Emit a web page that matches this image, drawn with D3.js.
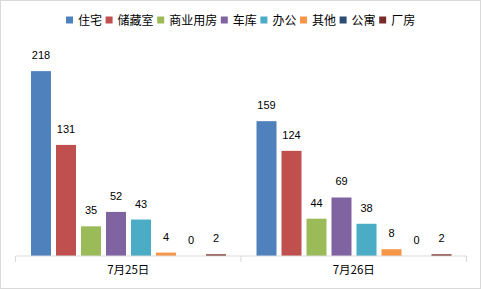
<!DOCTYPE html>
<html>
<head>
<meta charset="utf-8">
<script src="https://cdn.jsdelivr.net/npm/d3@7"></script>
<style>
  body { margin: 0; background: #fff; }
  svg { display: block; }
</style>
</head>
<body>
<svg id="chart"></svg>
<script>
// categories and series
var dates = ["7月25日", "7月26日"];
var types = ["住宅", "储藏室", "商业用房", "车库", "办公", "其他", "公寓", "厂房"];
var day25 = [218, 131, 35, 52, 43, 4, 0, 2];
var day26 = [159, 124, 44, 69, 38, 8, 0, 2];
var colors = ["#4F81BD", "#C0504D", "#9BBB59", "#8064A2", "#4BACC6", "#F79646", "#2C4D75", "#772C2A"];

function draw_chart() {
    var W = 481, H = 289;
    var margin = {top: 44, right: 14.5, bottom: 33, left: 15.5},
        width = W - margin.left - margin.right,
        height = H - margin.top - margin.bottom;

    var cjk = "'Noto Sans CJK SC', 'Liberation Sans', sans-serif";
    var numFont = "'Liberation Sans', Arial, sans-serif";

    var svg = d3.select("#chart")
        .attr("width", W)
        .attr("height", H);

    svg.append("rect")
        .attr("x", 0.5).attr("y", 0.5)
        .attr("width", W - 1).attr("height", H - 1)
        .attr("fill", "#fff")
        .attr("stroke", "#D9D9D9");

    var data = dates.map(function(d, i) {
        var vals = i === 0 ? day25 : day26;
        return {date: d, values: types.map(function(t, j) { return {type: t, value: vals[j]}; })};
    });

    var x0 = d3.scaleBand().domain(dates).range([0, width]);
    var x1 = d3.scaleBand().domain(types)
        .range([15.5, x0.bandwidth() - 15]).paddingInner(0.2).paddingOuter(0);
    var y = d3.scaleLinear().domain([0, 250]).range([height, 0]);
    var color = d3.scaleOrdinal().domain(types).range(colors);

    var g = svg.append("g")
        .attr("transform", "translate(" + margin.left + "," + margin.top + ")");

    var groups = g.selectAll(".grp")
        .data(data)
        .enter().append("g")
        .attr("class", "grp")
        .attr("transform", function(d) { return "translate(" + x0(d.date) + ",0)"; });

    groups.selectAll("rect")
        .data(function(d) { return d.values; })
        .enter().append("rect")
        .attr("x", function(d) { return x1(d.type); })
        .attr("width", x1.bandwidth())
        .attr("y", function(d) { return y(d.value); })
        .attr("height", function(d) { return height - y(d.value); })
        .attr("fill", function(d) { return color(d.type); });

    groups.selectAll("text.lbl")
        .data(function(d) { return d.values; })
        .enter().append("text")
        .attr("class", "lbl")
        .attr("x", function(d) { return x1(d.type) + x1.bandwidth() / 2; })
        .attr("y", function(d) { return y(d.value) - 12; })
        .attr("text-anchor", "middle")
        .style("font-family", numFont)
        .style("font-size", "11px")
        .style("fill", "#000")
        .text(function(d) { return d.value; });

    // category axis
    var xAxis = d3.axisBottom(x0).tickSize(0).tickPadding(9.5);
    var ax = g.append("g")
        .attr("transform", "translate(0," + height + ")")
        .call(xAxis);
    ax.select(".domain").remove();
    ax.append("line")
        .attr("x1", 0).attr("x2", width)
        .attr("stroke", "#D9D9D9");
    ax.selectAll(".sep")
        .data(d3.range(dates.length + 1))
        .enter().append("line")
        .attr("class", "sep")
        .attr("x1", function(i) { return i * x0.step(); })
        .attr("x2", function(i) { return i * x0.step(); })
        .attr("y1", 0).attr("y2", 6)
        .attr("stroke", "#D9D9D9");
    ax.selectAll(".tick text")
        .style("font-family", cjk)
        .style("font-size", "11.5px")
        .style("fill", "#000");

    // legend
    var leg = svg.append("g").attr("transform", "translate(66,20)");
    var xpos = 0;
    types.forEach(function(t) {
        var item = leg.append("g").attr("transform", "translate(" + xpos + ",0)");
        item.append("rect")
            .attr("x", 0).attr("y", -3.5)
            .attr("width", 7).attr("height", 7)
            .attr("fill", color(t));
        item.append("text")
            .attr("x", 12).attr("y", 4.5)
            .style("font-family", cjk)
            .style("font-size", "12px")
            .style("fill", "#000")
            .text(t);
        xpos += 12 + t.length * 12 + 3.6;
    });
}

draw_chart();
</script>
</body>
</html>
